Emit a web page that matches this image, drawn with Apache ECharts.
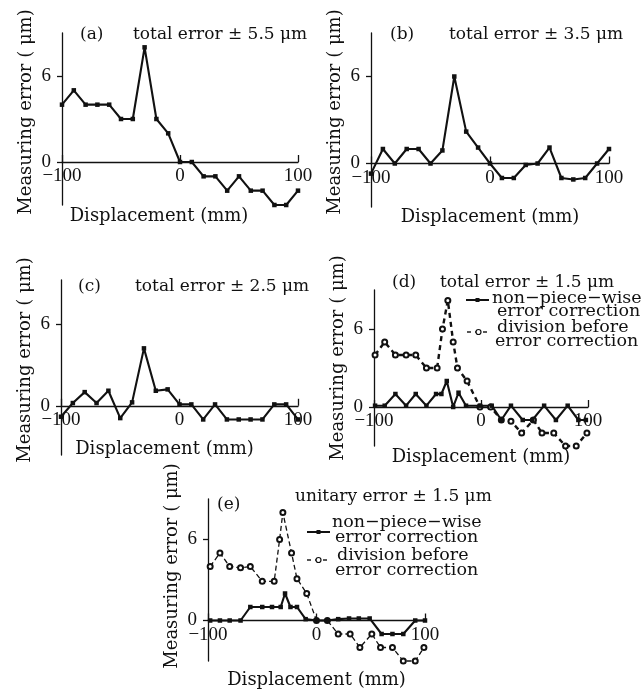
<!DOCTYPE html>
<html>
<head>
<meta charset="utf-8">
<script src="https://cdn.jsdelivr.net/npm/echarts@6/dist/echarts.min.js"></script>
<style>
  html, body { margin: 0; padding: 0; background: #fff; }
  #chart { width: 644px; height: 692px; }
</style>
</head>
<body>
<div id="chart"></div>
<script>
// displacement (mm)
const xStep = [-100, -90, -80, -70, -60, -50, -40, -30, -20, -10, 0, 10, 20, 30, 40, 50, 60, 70, 80, 90, 100]

// (a) (b) (c) measuring error (um)
const errA = [4, 5, 4, 4, 4, 3, 3, 8, 3, 2, 0, 0, -1, -1, -2, -1, -2, -2, -3, -3, -2]
const errB = [-0.7, 1, 0, 1, 1, 0, 0.9, 6, 2.2, 1.1, 0, -1, -1, -0.1, 0, 1.1, -1, -1.1, -1, 0, 1]
const errC = [-0.8, 0.2, 1, 0.2, 1.1, -0.9, 0.25, 4.2, 1.1, 1.2, 0.1, 0.1, -1, 0.1, -1, -1, -1, -1, 0.1, 0.1, -1]

// (d) non-piece-wise / division before
const xD1 = [-99, -90, -80, -70, -61, -51, -42, -37, -32, -26, -21, -14, -1, 10, 19, 28, 39, 48, 59, 70, 81, 91, 98]
const errD1 = [0.1, 0.1, 1, 0.1, 1, 0.1, 1, 1, 2, 0, 1.1, 0.1, 0.1, 0.1, -1, 0.1, -1, -1, 0.1, -1, 0.1, -1, -1]
const xD2 = [-99, -90, -80, -70, -61, -51, -41, -36, -31, -26, -22, -13, -1, 9, 19, 28, 38, 49, 57, 68, 79, 89, 99]
const errD2 = [4, 5, 4, 4, 4, 3, 3, 6, 8.2, 5, 3, 2, 0, 0, -1, -1.1, -2, -1, -2, -2, -3, -3, -2]

// (e) non-piece-wise / division before
const xE1 = [-98, -89, -80, -70, -61, -50, -41, -33, -29, -24, -18, -10, 0, 10, 20, 30, 39, 49, 60, 70, 80, 91, 100]
const errE1 = [0, 0, 0, 0, 1, 1, 1, 1, 2, 1, 1, 0.1, 0, 0, 0.1, 0.15, 0.15, 0.15, -1, -1, -1, 0, 0]
const xE2 = [-98, -89, -80, -70, -61, -50, -39, -34, -31, -23, -18, -9, 0, 10, 20, 31, 40, 51, 59, 70, 80, 91, 99]
const errE2 = [4, 5, 4, 3.9, 4, 2.9, 2.9, 6, 8, 5, 3.1, 2, 0, 0, -1, -1, -2, -1, -2, -2, -3, -3, -2]

const xTicks = [-100, 0, 100]
const yTicks = [0, 6]
const panelTags = ['(a)', '(b)', '(c)', '(d)', '(e)']
const panelNotes = ['total error ± 5.5 μm', 'total error ± 3.5 μm', 'total error ± 2.5 μm', 'total error ± 1.5 μm', 'unitary error ± 1.5 μm']
const legendNames = [['non−piece−wise', 'error correction'], ['division before', 'error correction']]

const ink = '#111'
const serif = 'DejaVu Serif'
const numFont = 'Liberation Serif'

const pairs = (xs, ys) => xs.map((x, i) => [x, ys[i]])

// layout of the five panels
const panels = [
  { grid: { left: 62, top: 33, width: 236, height: 172 }, yMin: -3, yMax: 9, xGap: 45, xPad: [0, 42, 0, 0], yPad: [0, 0, 0, 14],
    tag: [80, 35], note: [133, 35] },
  { grid: { left: 371, top: 33, width: 238, height: 174 }, yMin: -3, yMax: 9, xGap: 45, xPad: [0, 0, 0, 0], yPad: [0, 0, 0, 16],
    tag: [390, 35], note: [449, 35] },
  { grid: { left: 61, top: 280, width: 237, height: 175 }, yMin: -3.6, yMax: 9.2, xGap: 35, xPad: [0, 30, 0, 0], yPad: [0, 0, 0, 15],
    tag: [78, 287], note: [135, 287] },
  { grid: { left: 374, top: 290, width: 214, height: 156 }, yMin: -3, yMax: 9, xGap: 41, xPad: [0, 0, 0, 0], yPad: [0, 0, 0, 20],
    tag: [392, 283], note: [440, 283] },
  { grid: { left: 208, top: 499, width: 217, height: 162 }, yMin: -3, yMax: 9, xGap: 51, xPad: [0, 0, 0, 0], yPad: [0, 0, 0, 28],
    tag: [217, 505], note: [295, 497] }
]

const chart = echarts.init(document.getElementById('chart'))

// x axis sits on the zero line: lift it from the grid bottom by the span below zero
const xAxis = panels.map((p, i) => ({
  type: 'value',
  gridIndex: i,
  min: -100,
  max: 100,
  offset: -(0 - p.yMin) / (p.yMax - p.yMin) * p.grid.height,
  name: 'Displacement (mm)',
  nameLocation: 'middle',
  nameGap: p.xGap,
  nameTextStyle: { fontFamily: serif, fontSize: 18, color: ink, padding: p.xPad },
  axisLine: { onZero: false, lineStyle: { color: ink, width: 1.3 } },
  axisTick: { show: true, inside: true, length: 7, customValues: xTicks, lineStyle: { color: ink, width: 1.3 } },
  axisLabel: {
    customValues: xTicks,
    margin: 5,
    fontFamily: numFont,
    fontSize: 19,
    color: ink,
    formatter: (v) => String(v).replace('-', '\u2212')
  },
  splitLine: { show: false }
}))

const yAxis = panels.map((p, i) => ({
  type: 'value',
  gridIndex: i,
  min: p.yMin,
  max: p.yMax,
  name: 'Measuring error ( μm)',
  nameLocation: 'middle',
  nameGap: 27,
  nameTextStyle: { fontFamily: serif, fontSize: 18, color: ink, padding: p.yPad },
  axisLine: { show: true, onZero: false, lineStyle: { color: ink, width: 1.3 } },
  axisTick: { show: true, length: 5, customValues: yTicks, lineStyle: { color: ink, width: 1.3 } },
  axisLabel: { customValues: yTicks, margin: 11, fontFamily: numFont, fontSize: 19, color: ink },
  splitLine: { show: false }
}))

function solidLine(i, data) {
  return {
    type: 'line',
    xAxisIndex: i,
    yAxisIndex: i,
    data: data,
    symbol: 'rect',
    symbolSize: 4.5,
    clip: false,
    lineStyle: { color: ink, width: 2.1 },
    itemStyle: { color: ink }
  }
}

function dashedLine(i, data, width, dash) {
  return {
    type: 'line',
    xAxisIndex: i,
    yAxisIndex: i,
    data: data,
    symbol: 'emptyCircle',
    symbolSize: 5,
    clip: false,
    lineStyle: { color: ink, width: width, type: dash },
    itemStyle: { color: ink, borderWidth: 1.2 }
  }
}

const series = [
  solidLine(0, pairs(xStep, errA)),
  solidLine(1, pairs(xStep, errB)),
  solidLine(2, pairs(xStep, errC)),
  dashedLine(3, pairs(xD2, errD2), 2.4, [5, 4]),
  solidLine(3, pairs(xD1, errD1)),
  dashedLine(4, pairs(xE2, errE2), 1.3, [5, 3]),
  solidLine(4, pairs(xE1, errE1))
]

// panel captions
const graphic = []
panels.forEach((p, i) => {
  graphic.push({ type: 'text', x: p.tag[0], y: p.tag[1], style: { text: panelTags[i], font: '17px "DejaVu Serif"', fill: ink, verticalAlign: 'middle' } })
  graphic.push({ type: 'text', x: p.note[0], y: p.note[1], style: { text: panelNotes[i], font: '17px "DejaVu Serif"', fill: ink, verticalAlign: 'middle' } })
})

// hand drawn legends of (d) and (e)
function legendEntry(x, y, dashed, lines, textX, textY) {
  const els = []
  els.push({ type: 'line', shape: { x1: x, y1: y, x2: x + 23, y2: y },
    style: { stroke: ink, lineWidth: dashed ? 1.4 : 2, lineDash: dashed ? [4, 4] : null } })
  if (dashed) {
    els.push({ type: 'circle', shape: { cx: x + 11.5, cy: y, r: 2.5 }, style: { fill: '#fff', stroke: ink, lineWidth: 1.2 } })
  } else {
    els.push({ type: 'rect', shape: { x: x + 9.5, y: y - 2, width: 4, height: 4 }, style: { fill: ink } })
  }
  lines.forEach((t, k) => {
    els.push({ type: 'text', x: textX[k], y: textY[k], style: { text: t, font: '17.5px "DejaVu Serif"', fill: ink, verticalAlign: 'middle' } })
  })
  return els
}

graphic.push(...legendEntry(466, 300, false, legendNames[0], [492, 497], [298, 311]))
graphic.push(...legendEntry(467, 332, true, legendNames[1], [497, 495], [327, 341]))
graphic.push(...legendEntry(307, 532, false, legendNames[0], [332, 335], [522, 537]))
graphic.push(...legendEntry(307, 560, true, legendNames[1], [337, 335], [555, 570]))

chart.setOption({
  backgroundColor: '#fff',
  animation: false,
  textStyle: { fontFamily: serif },
  grid: panels.map(p => p.grid),
  xAxis: xAxis,
  yAxis: yAxis,
  series: series,
  graphic: graphic
})
</script>
</body>
</html>
